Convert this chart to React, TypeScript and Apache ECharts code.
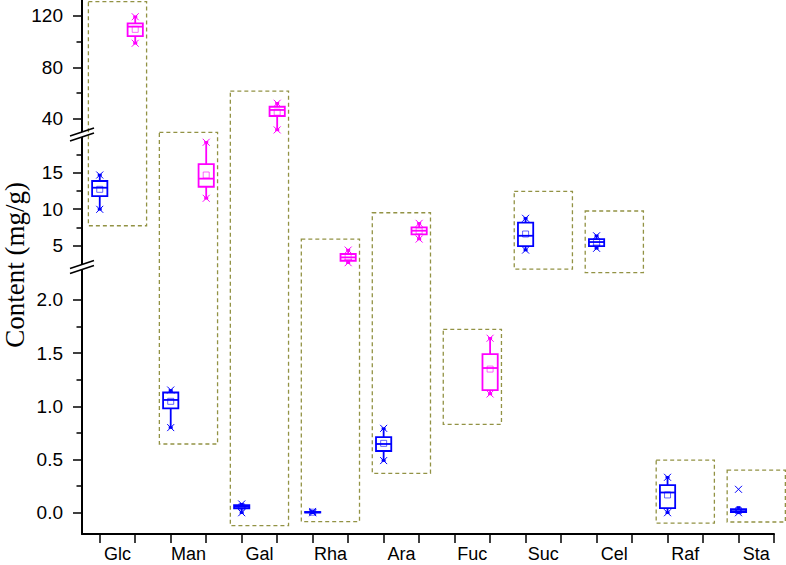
import React, { useEffect, useRef } from 'react';
import * as echarts from 'echarts';

// ---------------- DATA ----------------
const categories = ['Glc', 'Man', 'Gal', 'Rha', 'Ara', 'Fuc', 'Suc', 'Cel', 'Raf', 'Sta'];

// box statistics: [whiskerLow, Q1, median, Q3, whiskerHigh]
const blueBoxes: (number[] | null)[] = [
  [9.96, 11.78, 12.92, 13.84, 14.66],
  [0.8, 0.98, 1.06, 1.13, 1.15],
  [0.0, 0.04, 0.055, 0.07, 0.08],
  [0.0, 0.002, 0.004, 0.007, 0.012],
  [0.49, 0.58, 0.646, 0.71, 0.79],
  null,
  [4.38, 4.93, 6.34, 8.13, 8.73],
  [4.62, 4.93, 5.48, 5.89, 6.34],
  [0.0, 0.043, 0.19, 0.26, 0.333],
  [0.0, 0.005, 0.015, 0.033, 0.05],
];
const blueMeans = [12.7, 1.047, 0.055, 0.005, 0.652, null, 6.58, 5.48, 0.167, 0.02];
const blueMin = [9.96, 0.8, 0.0, 0.0, 0.49, null, 4.38, 4.62, 0.0, 0.0];
const blueMax = [14.66, 1.153, 0.082, 0.012, 0.793, null, 8.73, 6.34, 0.333, 0.22];

const magentaBoxes: (number[] | null)[] = [
  [98.7, 104.3, 111.6, 114.2, 119.3],
  [11.47, 13.05, 14.16, 16.16, 19.14],
  [31.4, 42.2, 46.9, 49.4, 52.1],
  [2.65, 2.92, 3.38, 3.84, 4.38],
  [5.89, 6.53, 7.03, 7.49, 8.04],
  [1.116, 1.153, 1.36, 1.49, 1.64],
  null,
  null,
  null,
  null,
];
const magentaMeans = [109.5, 14.66, 45.2, 3.47, 7.0, 1.35, null, null, null, null];
const magentaMin = [98.7, 11.47, 31.4, 2.65, 5.89, 1.116, null, null, null, null];
const magentaMax = [119.3, 19.14, 52.1, 4.38, 8.04, 1.64, null, null, null, null];

// dashed frame around each category (value units, in the broken axis)
const frameTop = [131, 29.5, 61.6, 5.89, 9.49, 1.724, 12.42, 9.73, 0.495, 0.4];
const frameBottom = [7.71, 0.646, -0.122, -0.083, 0.37, 0.831, 2.29, 2.256, -0.097, -0.087];

// axis ticks
const topTicks = [40, 80, 120];
const topMinorTicks = [60, 100];
const midTicks = [5, 10, 15];
const midMinorTicks = [7.5, 12.5, 17.5];
const botTicks = [0, 0.5, 1.0, 1.5, 2.0];
const botMinorTicks = [0.25, 0.75, 1.25, 1.75];

const yTitle = 'Content (mg/g)';

// ---------------- LAYOUT / STYLE ----------------
const GRID_LEFT = 82;
const GRID_WIDTH = 692;
const X_MIN = -0.5;
const X_MAX = 19;
const segments = [
  { min: 29, max: 132.3, top: 0, height: 133, ticks: topTicks, minor: topMinorTicks, fmt: (v: number) => String(v) },
  { min: 2.2, max: 20, top: 136, height: 130, ticks: midTicks, minor: midMinorTicks, fmt: (v: number) => String(v) },
  { min: -0.2, max: 2.3, top: 268, height: 266, ticks: botTicks, minor: botMinorTicks, fmt: (v: number) => v.toFixed(1) },
];
const BOX_W = 0.43;
const FRAME_PAD = 0.32;
const BLUE = '#0000FF';
const MAGENTA = '#FF00FF';
const FRAME_COLOR = '#929244';
const SANS = '"Liberation Sans", Arial, sans-serif';

const segOf = (v: number) => (v > segments[1].max ? 0 : v > segments[2].max ? 1 : 2);

function makeRender(color: string) {
  return (_params: any, api: any) => {
    const slot = api.value(0);
    const y = (val: number) => api.coord([slot, val])[1];
    const X = api.coord([slot, api.value(3)])[0];
    const w = api.size([1, 0])[0] * BOX_W;
    const yLow = y(api.value(1));
    const yQ1 = y(api.value(2));
    const yMed = y(api.value(3));
    const yQ3 = y(api.value(4));
    const yHigh = y(api.value(5));
    const yMean = y(api.value(6));
    const yMin = y(api.value(7));
    const yMax = y(api.value(8));
    const line = (x1: number, y1: number, x2: number, y2: number, lw: number, stroke = color) => ({
      type: 'line',
      shape: { x1, y1, x2, y2 },
      style: { stroke, lineWidth: lw },
    });
    const cross = (cy: number) => [
      line(X - 3.5, cy - 3.5, X + 3.5, cy + 3.5, 1),
      line(X - 3.5, cy + 3.5, X + 3.5, cy - 3.5, 1),
    ];
    return {
      type: 'group',
      children: [
        line(X, yQ1, X, yLow, 1.8),
        line(X, yQ3, X, yHigh, 1.8),
        line(X - 2, yLow, X + 2, yLow, 2.5),
        line(X - 2, yHigh, X + 2, yHigh, 2.5),
        {
          type: 'rect',
          shape: { x: X - w / 2, y: yQ3, width: w, height: Math.max(yQ1 - yQ3, 0.5) },
          style: { fill: 'none', stroke: color, lineWidth: 1.8 },
        },
        line(X - w / 2, yMed, X + w / 2, yMed, 1.8),
        {
          type: 'rect',
          shape: { x: X - 3, y: yMean - 3, width: 6, height: 6 },
          style: { fill: 'none', stroke: color, lineWidth: 1, opacity: 0.6 },
        },
        ...cross(yMin),
        ...cross(yMax),
      ],
    };
  };
}

function buildSeries() {
  const groups = [
    { boxes: blueBoxes, means: blueMeans, mins: blueMin, maxs: blueMax, offset: 0, color: BLUE },
    { boxes: magentaBoxes, means: magentaMeans, mins: magentaMin, maxs: magentaMax, offset: 1, color: MAGENTA },
  ];
  const series: any[] = [];
  groups.forEach((g) => {
    const perSeg: any[][] = [[], [], []];
    g.boxes.forEach((b, i) => {
      if (!b) return;
      const s = segOf(b[2]);
      perSeg[s].push([2 * i + g.offset, ...b, g.means[i], g.mins[i], g.maxs[i]]);
    });
    perSeg.forEach((data, s) => {
      if (!data.length) return;
      series.push({
        type: 'custom',
        xAxisIndex: s,
        yAxisIndex: 2 * s,
        renderItem: makeRender(g.color),
        encode: { x: 0, y: [1, 2, 3, 4, 5, 6, 7, 8] },
        data,
        z: 5,
      });
    });
  });
  return series;
}

export default function App() {
  const ref = useRef<HTMLDivElement>(null);
  useEffect(() => {
    const chart = echarts.init(ref.current!, null, { renderer: 'svg' });
    const axisColor = '#000';
    const slotTicks = categories.flatMap((_, i) => [2 * i, 2 * i + 1]);
    const labelPos = categories.map((_, i) => 2 * i + 0.5);

    const grid = segments.map((s) => ({
      left: GRID_LEFT,
      width: GRID_WIDTH,
      top: s.top,
      height: s.height,
      containLabel: false,
      outerBoundsMode: 'none',
    }));

    const xAxis = segments.map((_, s) => ({
      type: 'value',
      gridIndex: s,
      min: X_MIN,
      max: X_MAX,
      show: s === 2,
      position: 'bottom',
      axisLine: { show: true, onZero: false, lineStyle: { color: axisColor, width: 2 } },
      axisTick: { show: true, customValues: slotTicks, length: 9, lineStyle: { color: axisColor, width: 1.5 } },
      axisLabel: {
        show: true,
        customValues: labelPos,
        formatter: (v: number) => categories[Math.round((v - 0.5) / 2)] ?? '',
        fontSize: 18,
        fontFamily: SANS,
        color: '#000',
        margin: 11,
      },
      splitLine: { show: false },
    }));

    const yAxis: any[] = [];
    segments.forEach((seg, s) => {
      yAxis.push({
        type: 'value',
        gridIndex: s,
        min: seg.min,
        max: seg.max,
        position: 'left',
        axisLine: { show: true, onZero: false, lineStyle: { color: axisColor, width: 2 } },
        axisTick: { show: true, customValues: seg.ticks, length: 9, lineStyle: { color: axisColor, width: 1.5 } },
        axisLabel: {
          show: true,
          customValues: seg.ticks,
          formatter: seg.fmt,
          fontSize: 19,
          fontFamily: SANS,
          color: '#000',
          margin: 19,
        },
        splitLine: { show: false },
      });
      yAxis.push({
        type: 'value',
        gridIndex: s,
        min: seg.min,
        max: seg.max,
        position: 'left',
        axisLine: { show: false, onZero: false },
        axisTick: { show: true, customValues: seg.minor, length: 5.5, lineStyle: { color: axisColor, width: 1.5 } },
        axisLabel: { show: false },
        splitLine: { show: false },
      });
    });

    chart.setOption({
      animation: false,
      backgroundColor: '#fff',
      grid,
      xAxis,
      yAxis,
      series: buildSeries(),
    });

    // frames, converted through the axes' scales
    const px = (v: number) => chart.convertToPixel({ xAxisIndex: 2 } as any, v) as unknown as number;
    const py = (v: number) => chart.convertToPixel({ yAxisIndex: 2 * segOf(v) } as any, v) as unknown as number;
    const frames = categories.map((_, i) => {
      const x1 = px(2 * i - FRAME_PAD);
      const x2 = px(2 * i + 1 + FRAME_PAD);
      const y1 = py(frameTop[i]);
      const y2 = py(frameBottom[i]);
      return {
        type: 'rect',
        silent: true,
        z: 3,
        shape: { x: x1, y: y1, width: x2 - x1, height: y2 - y1 },
        style: { fill: 'none', stroke: FRAME_COLOR, lineWidth: 1.3, lineDash: [4, 3] },
      };
    });

    // axis break marks
    const breaks: any[] = [];
    [0, 1].forEach((k) => {
      const a = segments[k];
      const b = segments[k + 1];
      const cy = (a.top + a.height + b.top) / 2;
      const cx = GRID_LEFT;
      breaks.push({
        type: 'polygon',
        silent: true,
        z: 20,
        shape: {
          points: [
            [cx - 6, cy + 2.5 + 2],
            [cx + 5, cy + 2.5 - 1.7],
            [cx + 5, cy - 2.5 - 1.7],
            [cx - 6, cy - 2.5 + 2],
          ],
        },
        style: { fill: '#fff' },
      });
      [-2.5, 2.5].forEach((d) => {
        breaks.push({
          type: 'line',
          silent: true,
          z: 21,
          shape: { x1: cx - 12, y1: cy + d + 4, x2: cx + 12, y2: cy + d - 4 },
          style: { stroke: '#000', lineWidth: 1.5 },
        });
      });
    });

    const title = {
      type: 'text',
      silent: true,
      x: 15,
      y: 265,
      rotation: Math.PI / 2,
      style: {
        text: yTitle,
        font: '27px "Liberation Serif", "Times New Roman", serif',
        fill: '#000',
        align: 'center',
        verticalAlign: 'middle',
        textAlign: 'center',
        textVerticalAlign: 'middle',
      },
    };

    chart.setOption({ graphic: { elements: [...frames, ...breaks, title] } });

    return () => chart.dispose();
  }, []);
  return <div ref={ref} style={{ position: 'absolute', left: 0, top: 0, width: 786, height: 565 }} />;
}
